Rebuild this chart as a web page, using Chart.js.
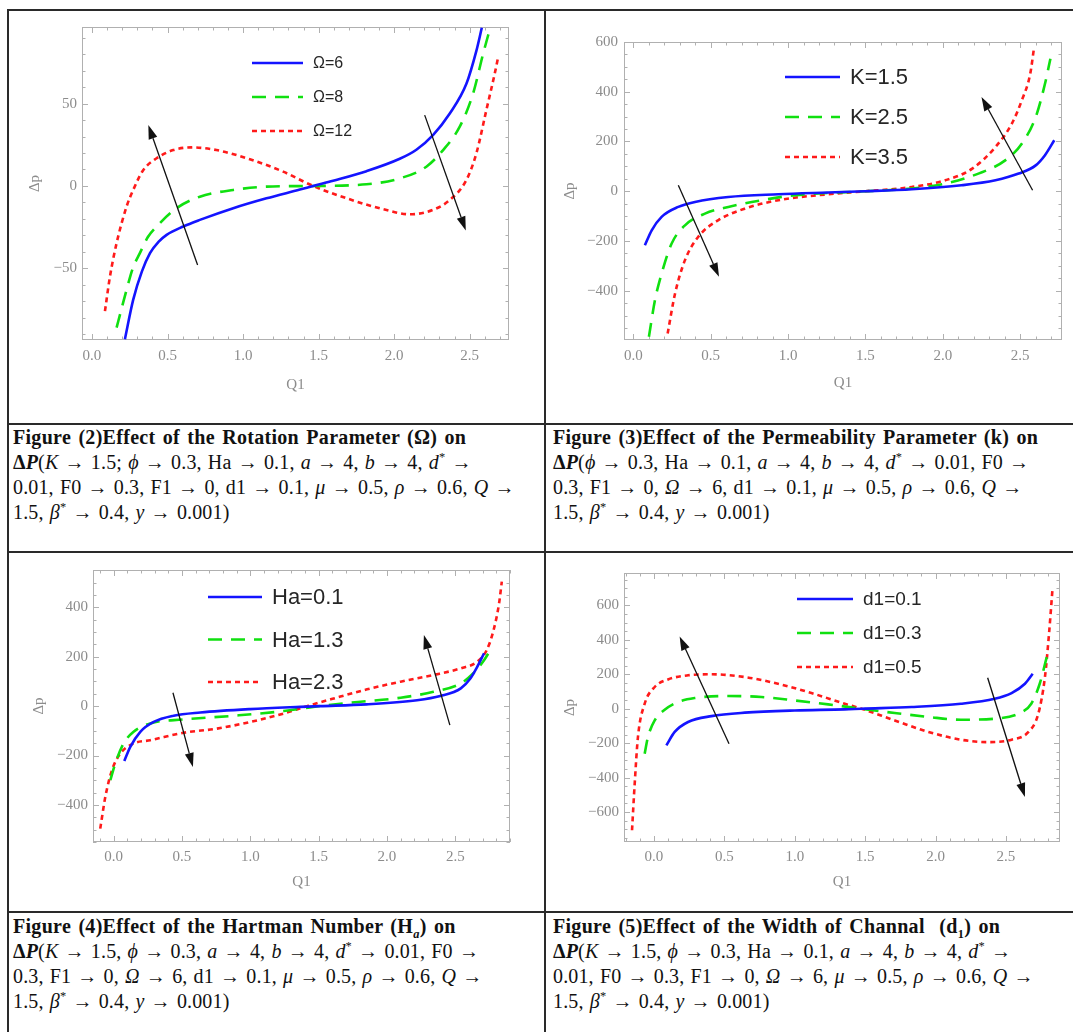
<!DOCTYPE html>
<html>
<head>
<meta charset="utf-8">
<script src="https://cdn.jsdelivr.net/npm/chart.js@4"></script>
<style>
body { margin: 0; background: #fff; width: 1073px; height: 1032px; overflow: hidden; position: relative; }
.box { position: absolute; }
.rule { position: absolute; background: #2a2a2a; }
.cap { position: absolute; font-family: "Liberation Serif", serif; font-size: 20px; line-height: 25px; letter-spacing: 0.15px; word-spacing: 1px; color: #111; white-space: nowrap; }
.cap b.t { letter-spacing: 0.3px; word-spacing: 2px; }
.cap i { font-style: italic; }
.cap sup, .cap sub { line-height: 0; font-size: 0.62em; }
</style>
</head>
<body>
<div class="rule" style="left:7px;top:9px;width:1100px;height:2px"></div>
<div class="rule" style="left:7px;top:9px;width:2px;height:1100px"></div>
<div class="rule" style="left:544px;top:9px;width:2px;height:1100px"></div>
<div class="rule" style="left:7px;top:423px;width:1100px;height:2px"></div>
<div class="rule" style="left:7px;top:551px;width:1100px;height:2px"></div>
<div class="rule" style="left:7px;top:911px;width:1100px;height:2px"></div>

<div class="box" style="left:10px;top:12px;width:533px;height:410px"><canvas id="c1"></canvas></div>
<div class="box" style="left:547px;top:12px;width:526px;height:410px"><canvas id="c2"></canvas></div>
<div class="box" style="left:10px;top:554px;width:533px;height:356px"><canvas id="c3"></canvas></div>
<div class="box" style="left:547px;top:554px;width:526px;height:356px"><canvas id="c4"></canvas></div>

<div class="cap" style="left:13px;top:425px">
<b class="t">Figure (2)Effect of the Rotation Parameter (Ω) on</b><br>
<b>Δ<i>P</i></b>(<i>K</i> → 1.5; <i>ϕ</i> → 0.3, Ha → 0.1, <i>a</i> → 4, <i>b</i> → 4, <i>d</i><sup>*</sup> →<br>
0.01, F0 → 0.3, F1 → 0, d1 → 0.1, <i>μ</i> → 0.5, <i>ρ</i> → 0.6, <i>Q</i> →<br>
1.5, <i>β</i><sup>*</sup> → 0.4, <i>y</i> → 0.001)
</div>
<div class="cap" style="left:553px;top:425px">
<b class="t">Figure (3)Effect of the Permeability Parameter (k) on</b><br>
<b>Δ<i>P</i></b>(<i>ϕ</i> → 0.3, Ha → 0.1, <i>a</i> → 4, <i>b</i> → 4, <i>d</i><sup>*</sup> → 0.01, F0 →<br>
0.3, F1 → 0, <i>Ω</i> → 6, d1 → 0.1, <i>μ</i> → 0.5, <i>ρ</i> → 0.6, <i>Q</i> →<br>
1.5, <i>β</i><sup>*</sup> → 0.4, <i>y</i> → 0.001)
</div>
<div class="cap" style="left:13px;top:914px">
<b class="t">Figure (4)Effect of the Hartman Number (H<sub><i>a</i></sub>) on</b><br>
<b>Δ<i>P</i></b>(<i>K</i> → 1.5, <i>ϕ</i> → 0.3, <i>a</i> → 4, <i>b</i> → 4, <i>d</i><sup>*</sup> → 0.01, F0 →<br>
0.3, F1 → 0, <i>Ω</i> → 6, d1 → 0.1, <i>μ</i> → 0.5, <i>ρ</i> → 0.6, <i>Q</i> →<br>
1.5, <i>β</i><sup>*</sup> → 0.4, <i>y</i> → 0.001)
</div>
<div class="cap" style="left:553px;top:914px">
<b class="t">Figure (5)Effect of the Width of Channal &nbsp;(d<sub>1</sub>) on</b><br>
<b>Δ<i>P</i></b>(<i>K</i> → 1.5, <i>ϕ</i> → 0.3, Ha → 0.1, <i>a</i> → 4, <i>b</i> → 4, <i>d</i><sup>*</sup> →<br>
0.01, F0 → 0.3, F1 → 0, <i>Ω</i> → 6, <i>μ</i> → 0.5, <i>ρ</i> → 0.6, <i>Q</i> →<br>
1.5, <i>β</i><sup>*</sup> → 0.4, <i>y</i> → 0.001)
</div>

<script>
// ---- data (Q1 -> delta p) ----
const xTicks = [0, 0.5, 1, 1.5, 2, 2.5];

// Fig 2: rotation parameter
const omegaLabels = ['Ω=6', 'Ω=8', 'Ω=12'];
const q_om6 = [0.218, 0.273, 0.33, 0.384, 0.44, 0.494, 0.604, 0.714, 0.935, 1.155, 1.376, 1.464, 1.596, 1.817, 2.037, 2.147, 2.257, 2.368, 2.478, 2.544, 2.58];
const dp_om6 = [-93, -69, -52, -40.8, -34, -29.7, -24.6, -20.6, -13.5, -7.5, -2.2, 0, 3.2, 9, 16.5, 22, 30.9, 44, 62, 82, 96];
const q_om8 = [0.163, 0.2, 0.229, 0.27, 0.317, 0.37, 0.428, 0.56, 0.714, 0.935, 1.155, 1.464, 1.817, 2.037, 2.213, 2.324, 2.434, 2.522, 2.588, 2.637];
const dp_om8 = [-86, -73, -63, -50, -40.8, -31, -24.6, -13.5, -6.5, -2.4, -0.4, 0, 1, 4.6, 11.7, 21.8, 36, 56, 80, 96.5];
const q_om12 = [0.086, 0.119, 0.163, 0.229, 0.273, 0.34, 0.428, 0.538, 0.659, 0.824, 1.045, 1.265, 1.464, 1.706, 1.927, 2.103, 2.257, 2.368, 2.478, 2.544, 2.61, 2.665, 2.69];
const dp_om12 = [-76, -55, -34.7, -12.5, -2.4, 9.7, 16.8, 21.8, 23.4, 21.8, 16.2, 8.7, 0, -8.1, -14.1, -17.2, -14.5, -8.5, 3.6, 19.8, 46, 68, 79];
const yTicksOm = [-50, 0, 50];

// Fig 3: permeability
const kLabels = ['K=1.5', 'K=2.5', 'K=3.5'];
const q_k15 = [0.075, 0.119, 0.183, 0.291, 0.399, 0.614, 0.9375, 1.26, 1.5, 1.8, 2.12, 2.34, 2.49, 2.6, 2.66, 2.72];
const dp_k15 = [-217, -157, -103, -63, -43, -23, -12, -5, 0, 8, 24, 44, 71, 104, 145, 205];
const q_k25 = [0.101, 0.14, 0.183, 0.248, 0.334, 0.463, 0.614, 0.83, 1.045, 1.5, 1.8, 2.015, 2.23, 2.403, 2.51, 2.6, 2.66, 2.695];
const dp_k25 = [-585, -438, -331, -210, -137, -90, -63, -36, -16, 0, 11, 31, 71, 124, 191, 298, 432, 533];
const q_k35 = [0.222, 0.27, 0.334, 0.42, 0.55, 0.72, 0.9375, 1.26, 1.5, 1.8, 2.015, 2.19, 2.34, 2.446, 2.51, 2.565, 2.59];
const dp_k35 = [-572, -411, -277, -183, -116, -70, -36, -12, 0, 17, 44, 91, 178, 272, 365, 473, 580];
const yTicksK = [-400, -200, 0, 200, 400, 600];

// Fig 4: Hartman number
const haLabels = ['Ha=0.1', 'Ha=1.3', 'Ha=2.3'];
const q_ha01 = [0.078, 0.122, 0.195, 0.293, 0.439, 0.634, 1.0, 1.366, 1.51, 1.85, 2.22, 2.39, 2.54, 2.61, 2.66, 2.71];
const dp_ha01 = [-222, -165, -104, -64, -39, -26, -12, -3, 0, 7, 24, 41, 72, 112, 159, 214];
const q_ha13 = [-0.024, 0.012, 0.073, 0.146, 0.268, 0.512, 0.878, 1.244, 1.46, 1.73, 2.1, 2.34, 2.54, 2.63, 2.71, 2.77];
const dp_ha13 = [-300, -232, -151, -104, -70, -54, -39, -20, -3, 14, 34, 58, 92, 132, 186, 240];
const q_ha23 = [-0.098, -0.061, -0.012, 0.049, 0.146, 0.268, 0.512, 0.756, 1.0, 1.244, 1.415, 1.61, 1.854, 2.1, 2.34, 2.54, 2.66, 2.73, 2.78, 2.82, 2.84];
const dp_ha23 = [-496, -368, -259, -192, -151, -138, -108, -91, -64, -30, 0, 31, 68, 99, 126, 153, 180, 227, 308, 416, 504];
const yTicksHa = [-400, -200, 0, 200, 400];

// Fig 5: channel width
const d1Labels = ['d1=0.1', 'd1=0.3', 'd1=0.5'];
const q_d01 = [0.088, 0.147, 0.242, 0.408, 0.645, 1.0, 1.355, 1.474, 1.83, 2.18, 2.42, 2.54, 2.635, 2.69];
const dp_d01 = [-213, -135, -77, -43, -23, -10, -4, 0, 10, 29, 58, 91, 145, 203];
const q_d03 = [-0.066, -0.043, 0.005, 0.076, 0.17, 0.289, 0.526, 0.763, 1.0, 1.237, 1.474, 1.71, 1.95, 2.18, 2.42, 2.59, 2.68, 2.74, 2.79];
const dp_d03 = [-261, -165, -68, -6, 39, 62, 74, 68, 48, 25, 0, -25, -48, -64, -58, -29, 29, 145, 300];
const q_d05 = [-0.156, -0.137, -0.114, -0.066, 0.005, 0.1, 0.242, 0.408, 0.645, 0.88, 1.118, 1.355, 1.474, 1.71, 1.95, 2.18, 2.37, 2.54, 2.66, 2.73, 2.777, 2.806, 2.83];
const dp_d05 = [-706, -435, -165, 29, 126, 170, 194, 200, 184, 145, 91, 29, 0, -68, -135, -180, -194, -180, -135, -29, 184, 435, 687];
const yTicksD1 = [-600, -400, -200, 0, 200, 400, 600];

// trend arrows, [q, dp] from -> to
const arrowsOm = [[[0.699, -48], [0.373, 37]], [[2.202, 43], [2.474, -27]]];
const arrowsK = [[[0.291, 24], [0.554, -344]], [[2.58, 4], [2.25, 379]]];
const arrowsHa = [[[0.434, 54], [0.58, -246]], [[2.46, -77], [2.27, 288]]];
const arrowsD1 = [[[0.533, -203], [0.182, 420]], [[2.37, 180], [2.635, -513]]];

// ---- styling ----
const styles = [
    { color: '#1414ff', dash: [] },
    { color: '#10e010', dash: [14, 9] },
    { color: '#ff1a1a', dash: [5, 4] }
];
const tickGray = '#8c8c8c';
const frameGray = '#b0b0b0';

function zip(qs, ds) {
    return qs.map((q, i) => ({ x: q, y: ds[i] }));
}

function fmtY(v) {
    return v < 0 ? '\u2212' + Math.abs(v) : String(v);
}

// Mathematica style frame with inward major/minor ticks on all sides
const framePlugin = {
    id: 'frame',
    beforeDatasetsDraw(chart) {
        const o = chart.options.plugins.frame;
        const { ctx, chartArea: a } = chart;
        const xs = chart.scales.x, ys = chart.scales.y;
        ctx.save();
        ctx.strokeStyle = frameGray;
        ctx.lineWidth = 1;
        ctx.strokeRect(a.left + 0.5, a.top + 0.5, a.right - a.left - 1, a.bottom - a.top - 1);
        const marks = (scale, minor, major) => {
            const out = [];
            const n0 = Math.ceil(scale.min / minor - 1e-9), n1 = Math.floor(scale.max / minor + 1e-9);
            for (let n = n0; n <= n1; n++) {
                const v = n * minor;
                const isMajor = Math.abs(v / major - Math.round(v / major)) < 1e-6;
                out.push([scale.getPixelForValue(v), isMajor ? 6 : 3.5]);
            }
            return out;
        };
        ctx.beginPath();
        marks(xs, o.xMinor, o.xMajor).forEach(([p, len]) => {
            const px = Math.round(p) + 0.5;
            ctx.moveTo(px, a.bottom); ctx.lineTo(px, a.bottom - len);
            ctx.moveTo(px, a.top); ctx.lineTo(px, a.top + len);
        });
        marks(ys, o.yMinor, o.yMajor).forEach(([p, len]) => {
            const py = Math.round(p) + 0.5;
            ctx.moveTo(a.left, py); ctx.lineTo(a.left + len, py);
            ctx.moveTo(a.right, py); ctx.lineTo(a.right - len, py);
        });
        ctx.stroke();
        ctx.restore();
    }
};

// legend inside the frame + black trend arrows
const overlayPlugin = {
    id: 'overlay',
    afterDatasetsDraw(chart) {
        const o = chart.options.plugins.overlay;
        const { ctx } = chart;
        const xs = chart.scales.x, ys = chart.scales.y;
        ctx.save();
        chart.data.datasets.forEach((ds, i) => {
            const yy = o.legendY + i * o.legendGap;
            ctx.strokeStyle = ds.borderColor;
            ctx.lineWidth = ds.borderWidth;
            ctx.setLineDash(ds.borderDash || []);
            ctx.beginPath();
            ctx.moveTo(o.legendX, yy);
            ctx.lineTo(o.legendX + o.legendLen, yy);
            ctx.stroke();
            ctx.setLineDash([]);
            ctx.fillStyle = '#262626';
            ctx.font = o.legendFont + 'px "Liberation Sans", Arial, sans-serif';
            ctx.textBaseline = 'middle';
            ctx.fillText(ds.label, o.legendX + o.legendLen + 10, yy + 1);
        });
        ctx.strokeStyle = '#111';
        ctx.fillStyle = '#111';
        ctx.lineWidth = 1.3;
        o.arrows.forEach(([from, to]) => {
            const x0 = xs.getPixelForValue(from[0]), y0 = ys.getPixelForValue(from[1]);
            const x1 = xs.getPixelForValue(to[0]), y1 = ys.getPixelForValue(to[1]);
            const ang = Math.atan2(y1 - y0, x1 - x0);
            const hl = 14, hw = 4.5;
            const bx = x1 - hl * Math.cos(ang), by = y1 - hl * Math.sin(ang);
            ctx.beginPath();
            ctx.moveTo(x0, y0);
            ctx.lineTo(bx, by);
            ctx.stroke();
            ctx.beginPath();
            ctx.moveTo(x1, y1);
            ctx.lineTo(bx + hw * Math.sin(ang), by - hw * Math.cos(ang));
            ctx.lineTo(bx - hw * Math.sin(ang), by + hw * Math.cos(ang));
            ctx.closePath();
            ctx.fill();
        });
        ctx.restore();
    }
};

function makeChart(id, cfg) {
    const datasets = cfg.series.map((s, i) => ({
        label: cfg.labels[i],
        data: zip(s[0], s[1]),
        borderColor: styles[i].color,
        borderDash: styles[i].dash,
        borderWidth: 2.6,
        pointRadius: 0,
        fill: false,
        cubicInterpolationMode: 'monotone'
    }));
    const tickFont = { family: '"Liberation Serif", serif', size: 15 };
    const titleFont = { family: '"Liberation Serif", serif', size: 15 };
    return new Chart(document.getElementById(id), {
        type: 'line',
        data: { datasets: datasets },
        options: {
            responsive: true,
            maintainAspectRatio: false,
            animation: false,
            layout: { padding: { left: 0, top: cfg.top, right: cfg.right, bottom: 0 } },
            scales: {
                x: {
                    type: 'linear',
                    min: cfg.xRange[0],
                    max: cfg.xRange[1],
                    grid: { display: false, drawTicks: false },
                    border: { display: false },
                    afterBuildTicks: (s) => { s.ticks = xTicks.map(v => ({ value: v })); },
                    afterFit: (s) => { s.height = cfg.xHeight; },
                    ticks: { color: tickGray, font: tickFont, padding: cfg.xPad, maxRotation: 0, callback: (v) => v.toFixed(1) },
                    title: { display: true, text: 'Q1', color: tickGray, font: titleFont, padding: { top: cfg.xTitlePad, bottom: cfg.xTitlePad } }
                },
                y: {
                    type: 'linear',
                    min: cfg.yRange[0],
                    max: cfg.yRange[1],
                    grid: { display: false, drawTicks: false },
                    border: { display: false },
                    afterBuildTicks: (s) => { s.ticks = cfg.yTicks.map(v => ({ value: v })); },
                    afterFit: (s) => { s.width = cfg.yWidth; },
                    ticks: { color: tickGray, font: tickFont, padding: cfg.yPad, callback: fmtY },
                    title: { display: true, text: 'Δp', color: tickGray, font: titleFont, padding: { top: cfg.yTitlePad, bottom: cfg.yTitlePad } }
                }
            },
            plugins: {
                legend: { display: false },
                tooltip: { enabled: false },
                frame: { xMinor: 0.1, xMajor: 0.5, yMinor: cfg.yMinor, yMajor: cfg.yMajor },
                overlay: cfg.overlay
            }
        },
        plugins: [framePlugin, overlayPlugin]
    });
}

makeChart('c1', {
    labels: omegaLabels,
    series: [[q_om6, dp_om6], [q_om8, dp_om8], [q_om12, dp_om12]],
    xRange: [-0.066, 2.76], yRange: [-93.5, 96.5], yTicks: yTicksOm, yMinor: 10, yMajor: 50,
    top: 15, right: 34, yWidth: 72, xHeight: 82, xPad: 7, yPad: 5, xTitlePad: 28, yTitlePad: 16,
    overlay: { legendX: 242, legendY: 51, legendGap: 34, legendLen: 51, legendFont: 16, arrows: arrowsOm }
});

makeChart('c2', {
    labels: kLabels,
    series: [[q_k15, dp_k15], [q_k25, dp_k25], [q_k35, dp_k35]],
    xRange: [-0.06, 2.77], yRange: [-598, 600], yTicks: yTicksK, yMinor: 50, yMajor: 200,
    top: 30, right: 11, yWidth: 77, xHeight: 82, xPad: 7, yPad: 6, xTitlePad: 30, yTitlePad: 14,
    overlay: { legendX: 238, legendY: 65, legendGap: 40, legendLen: 55, legendFont: 22, arrows: arrowsK }
});

makeChart('c3', {
    labels: haLabels,
    series: [[q_ha01, dp_ha01], [q_ha13, dp_ha13], [q_ha23, dp_ha23]],
    xRange: [-0.151, 2.9], yRange: [-550, 551], yTicks: yTicksHa, yMinor: 50, yMajor: 200,
    top: 16, right: 33, yWidth: 83, xHeight: 68, xPad: 6, yPad: 5, xTitlePad: 19, yTitlePad: 20,
    overlay: { legendX: 198, legendY: 43, legendGap: 42.5, legendLen: 54, legendFont: 22, arrows: arrowsHa }
});

makeChart('c4', {
    labels: d1Labels,
    series: [[q_d01, dp_d01], [q_d03, dp_d03], [q_d05, dp_d05]],
    xRange: [-0.213, 2.884], yRange: [-774, 788], yTicks: yTicksD1, yMinor: 50, yMajor: 200,
    top: 19, right: 13, yWidth: 77, xHeight: 68, xPad: 6, yPad: 5, xTitlePad: 19, yTitlePad: 14,
    overlay: { legendX: 250, legendY: 45, legendGap: 34, legendLen: 56, legendFont: 19, arrows: arrowsD1 }
});
</script>
</body>
</html>
